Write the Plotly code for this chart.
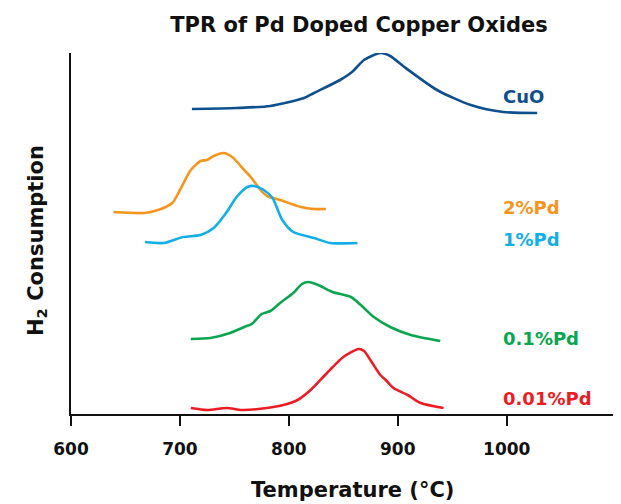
import plotly.graph_objects as go

# Temperature (°C) and H2 consumption (arbitrary units, stacked offsets)
cuo_t = [711, 752, 783, 814, 823, 847, 858, 869, 884, 893, 906, 936, 967, 997, 1028]
cuo_y = [304, 305, 307, 315, 320, 333, 341, 353, 360, 357, 346, 323, 308, 301, 300]

pd2_t = [639, 667, 680, 693, 700, 710, 719, 725, 731, 740, 748, 759, 765, 774, 780, 792, 811, 823, 834]
pd2_y = [201, 200, 203, 210, 223, 243, 252, 253, 257, 260, 256, 243, 236, 223, 217, 213, 206, 204, 204]

pd1_t = [668, 685, 703, 719, 731, 743, 752, 762, 768, 777, 785, 794, 804, 823, 838, 863]
pd1_y = [171, 170, 176, 178, 185, 201, 216, 226, 227, 223, 215, 193, 181, 175, 170, 170]

pd01_t = [710, 728, 746, 759, 766, 775, 783, 792, 804, 812, 818, 827, 840, 857, 866, 878, 893, 912, 939]
pd01_y = [74, 75, 80, 86, 89, 99, 102, 110, 120, 129, 131, 128, 121, 116, 108, 96, 86, 78, 72]

pd001_t = [710, 725, 743, 757, 780, 795, 808, 820, 835, 850, 864, 869, 876, 884, 889, 896, 909, 921, 942]
pd001_y = [5, 3, 5, 3, 5, 8, 13, 23, 40, 56, 64, 62, 51, 38, 33, 25, 18, 10, 5]

names = ["CuO", "2%Pd", "1%Pd", "0.1%Pd", "0.01%Pd"]
colors = ["#0e4f8e", "#f7941d", "#12aee8", "#0aa64f", "#ec1c24"]
label_y = [317, 206, 174, 75, 15]
label_x = 995

x_ticks = [600, 700, 800, 900, 1000]

FONT = "DejaVu Sans"

fig = go.Figure()
series = [(cuo_t, cuo_y), (pd2_t, pd2_y), (pd1_t, pd1_y), (pd01_t, pd01_y), (pd001_t, pd001_y)]
for (t, y), name, c in zip(series, names, colors):
    fig.add_trace(go.Scatter(x=t, y=y, mode="lines", name=name,
                             line=dict(color=c, width=2.6, shape="spline", smoothing=0.7)))

for name, c, ly in zip(names, colors, label_y):
    fig.add_annotation(x=label_x, y=ly, text=name, showarrow=False, xanchor="left",
                       yanchor="middle",
                       font=dict(family=FONT, size=18, color=c, weight="bold"))

fig.add_annotation(xref="paper", yref="paper", x=0.512, y=-0.2105, yanchor="middle",
                   text="Temperature (°C)", showarrow=False,
                   font=dict(family=FONT, size=21, color="#111", weight="bold"))
fig.add_annotation(xref="paper", yref="paper", x=-0.062, y=0.482, xanchor="center",
                   yanchor="middle", textangle=-90,
                   text="H<sub>2</sub> Consumption", showarrow=False,
                   font=dict(family=FONT, size=21, color="#111", weight="bold"))

fig.update_layout(
    width=621, height=504,
    margin=dict(l=63, r=9, t=45, b=98),
    paper_bgcolor="white", plot_bgcolor="white",
    showlegend=False,
    title=dict(text="TPR of Pd Doped Copper Oxides", x=351 / 621, xanchor="center",
               xref="container", y=1 - 17 / 504, yanchor="middle", yref="container",
               font=dict(family=FONT, size=21, color="#111", weight="bold")),
    xaxis=dict(range=[600, 1104], tickvals=x_ticks, ticks="outside", ticklen=10,
               tickwidth=2, tickcolor="#111", showline=True, linewidth=2, linecolor="#111",
               showgrid=False, zeroline=False, ticklabelstandoff=9,
               tickfont=dict(family=FONT, size=17, color="#111", weight="bold")),
    yaxis=dict(range=[-1, 360], showticklabels=False, ticks="", showline=True,
               linewidth=2, linecolor="#111", showgrid=False, zeroline=False),
)

fig.write_html("out.html")
